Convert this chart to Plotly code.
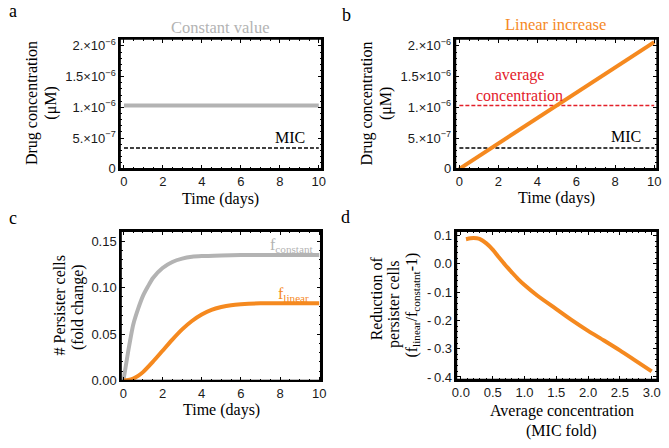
import plotly.graph_objects as go

# ---------------- data ----------------
time_span = [0, 10]
constant_conc = [1.03e-6, 1.03e-6]
linear_conc = [0.0, 2.06e-6]
mic_level = [3.4e-7, 3.4e-7]
average_level = [1.03e-6, 1.03e-6]

conc_tickvals = [0, 5e-7, 1e-6, 1.5e-6, 2e-6]
conc_ticktext = ["0", "5.×10<sup>−7</sup>", "1.×10<sup>−6</sup>", "1.5×10<sup>−6</sup>", "2.×10<sup>−6</sup>"]

time_c = [0, 0.25, 0.5, 0.75, 1, 1.25, 1.5, 2, 2.5, 3, 3.5, 4, 5, 6, 8, 10]
f_constant = [0, 0.032, 0.060, 0.077, 0.091, 0.101, 0.110, 0.121, 0.1275, 0.131, 0.133, 0.1338, 0.1345, 0.135, 0.135, 0.135]
time_l = [0, 0.25, 0.5, 0.75, 1, 1.5, 2, 2.5, 3, 3.5, 4, 4.5, 5, 5.5, 6, 7, 8, 10]
f_linear = [0, 0.0005, 0.002, 0.005, 0.009, 0.020, 0.032, 0.044, 0.055, 0.064, 0.071, 0.076, 0.079, 0.081, 0.082, 0.083, 0.083, 0.083]

avg_conc_fold = [0.08, 0.15, 0.2, 0.25, 0.3, 0.4, 0.5, 0.6, 0.7, 0.8, 0.9, 1.0, 1.2, 1.5, 1.75, 2.0, 2.25, 2.5, 2.75, 3.0]
reduction = [0.087, 0.090, 0.091, 0.090, 0.087, 0.072, 0.050, 0.022, -0.005, -0.030, -0.054, -0.075, -0.112, -0.160, -0.200, -0.237, -0.271, -0.306, -0.343, -0.380]

d_tickvals = [0.1, 0.0, -0.1, -0.2, -0.3, -0.4]
d_ticktext = ["0.1", "0.0", "-\u20090.1", "-\u20090.2", "-\u20090.3", "-\u20090.4"]
d_xtickvals = [0, 0.5, 1, 1.5, 2, 2.5, 3]
d_xticktext = ["0.0", "0.5", "1.0", "1.5", "2.0", "2.5", "3.0"]

GRAY = "#b3b3b3"
ORANGE = "#f5891f"
RED = "#e3202a"
SERIF = "Liberation Serif, Times New Roman, serif"
SANS = "Liberation Sans, Arial, sans-serif"

W, H = 669, 448
def px(x): return x / W
def py(y): return 1 - y / H

fig = go.Figure()

# panel a
fig.add_trace(go.Scatter(x=time_span, y=constant_conc, mode="lines", line=dict(color=GRAY, width=4), xaxis="x", yaxis="y"))
fig.add_trace(go.Scatter(x=time_span, y=mic_level, mode="lines", line=dict(color="black", width=1.5, dash="4px,2px"), xaxis="x", yaxis="y"))
# panel b
fig.add_trace(go.Scatter(x=time_span, y=average_level, mode="lines", line=dict(color=RED, width=1.5, dash="4px,2px"), xaxis="x2", yaxis="y2"))
fig.add_trace(go.Scatter(x=time_span, y=mic_level, mode="lines", line=dict(color="black", width=1.5, dash="4px,2px"), xaxis="x2", yaxis="y2"))
fig.add_trace(go.Scatter(x=time_span, y=linear_conc, mode="lines", line=dict(color=ORANGE, width=4), xaxis="x2", yaxis="y2"))
# panel c
fig.add_trace(go.Scatter(x=time_c, y=f_constant, mode="lines", line=dict(color=GRAY, width=4, shape="spline", smoothing=0.6), xaxis="x3", yaxis="y3"))
fig.add_trace(go.Scatter(x=time_l, y=f_linear, mode="lines", line=dict(color=ORANGE, width=4, shape="spline", smoothing=0.6), xaxis="x3", yaxis="y3"))
# panel d
fig.add_trace(go.Scatter(x=avg_conc_fold, y=reduction, mode="lines", line=dict(color=ORANGE, width=4, shape="spline", smoothing=0.8), xaxis="x4", yaxis="y4"))

common = dict(showline=True, linecolor="black", linewidth=1.5, mirror="allticks", ticks="inside",
              ticklen=4, tickwidth=1, tickcolor="black", showgrid=False, zeroline=False,
              tickfont=dict(family=SANS, size=13, color="#1a1a1a"))

def minor(dt, t0=0):
    return dict(ticks="inside", ticklen=2, tickcolor="black", tickwidth=1, tickmode="linear", tick0=t0, dtick=dt, showgrid=False)

top_y = (py(170), py(37))
bot_y = (py(387), py(234))
xa = dict(tickmode="array", tickvals=[0, 2, 4, 6, 8, 10], ticktext=["0", "2", "4", "6", "8", "10"], minor=minor(0.5))

fig.update_layout(
    xaxis=dict(domain=[px(117), px(322)], range=[-0.2, 10.15], anchor="y", **xa, **common),
    yaxis=dict(domain=list(top_y), range=[0, 2.11e-6], anchor="x", tickmode="array", tickvals=conc_tickvals, ticktext=conc_ticktext, minor=minor(1e-7), **common),
    xaxis2=dict(domain=[px(458), px(663)], range=[-0.2, 10.15], anchor="y2", **xa, **common),
    yaxis2=dict(domain=list(top_y), range=[0, 2.11e-6], anchor="x2", tickmode="array", tickvals=conc_tickvals, ticktext=conc_ticktext, minor=minor(1e-7), **common),
    xaxis3=dict(domain=[px(118), px(321)], range=[-0.12, 10.08], anchor="y3", **xa, **common),
    yaxis3=dict(domain=list(bot_y), range=[0, 0.1605], anchor="x3", tickmode="array", tickvals=[0, 0.05, 0.10, 0.15], ticktext=["0.00", "0.05", "0.10", "0.15"], minor=minor(0.01), **common),
    xaxis4=dict(domain=[px(459), px(663)], range=[-0.07, 3.085], anchor="y4", tickmode="array", tickvals=d_xtickvals, ticktext=d_xticktext, minor=minor(0.1), **common),
    yaxis4=dict(domain=[py(386), py(234)], range=[-0.409, 0.115], anchor="x4", tickmode="array", tickvals=d_tickvals, ticktext=d_ticktext, minor=minor(0.02), **common),
    width=W, height=H, margin=dict(l=0, r=0, t=0, b=0),
    paper_bgcolor="white", plot_bgcolor="white", showlegend=False,
)

# frames
for xr, yr in [("x", "y"), ("x2", "y2"), ("x3", "y3"), ("x4", "y4")]:
    fig.add_shape(type="rect", xref=f"{xr} domain", yref=f"{yr} domain", x0=0, x1=1, y0=0, y1=1,
                  line=dict(color="black", width=1.5), fillcolor="rgba(0,0,0,0)", layer="above")

def ann(x, y, text, size=16, color="black", angle=0, xref="paper", yref="paper", font=SERIF):
    fig.add_annotation(x=x, y=y, xref=xref, yref=yref, text=text, showarrow=False,
                       textangle=angle, font=dict(family=font, size=size, color=color),
                       xanchor="center", yanchor="middle")

# panel letters
ann(px(8), py(8), "a", size=18)
ann(px(347), py(12), "b", size=18)
ann(px(8), py(220), "c", size=18)
ann(px(346), py(219), "d", size=18)

# titles
ann(px(219), py(25), "Constant value", size=16.5, color=GRAY)
ann(px(560), py(22), "Linear increase", size=16.5, color=ORANGE)

# axis titles
ann(px(28), py(103), "Drug concentration", angle=-90)
ann(px(47), py(103), "(μM)", angle=-90)
ann(px(369), py(103), "Drug concentration", angle=-90)
ann(px(388), py(103), "(μM)", angle=-90)
ann(px(219), py(200.5), "Time (days)")
ann(px(561), py(200), "Time (days)")
ann(px(55), py(310), "# Persister cells", angle=-90)
ann(px(75), py(312), "(fold change)", angle=-90)
ann(px(220), py(417), "Time (days)")
ann(px(378), py(303), "Reduction of", angle=-90)
ann(px(396), py(308), "persister cells", angle=-90)
ann(px(414), py(310), "(f<sub>linear</sub>/f<sub>constatnt</sub>-1)", angle=-90)
ann(px(566), py(418), "Average concentration")
ann(px(566), py(439), "(MIC fold)")

# in-plot labels
ann(8.5, 5.1e-7, "MIC", xref="x", yref="y")
ann(8.57, 5.2e-7, "MIC", xref="x2", yref="y2")
ann(3.1, 1.37e-6, "average<br>concentration", xref="x2", yref="y2", color=RED)
ann(8.62, 0.145, "f<sub>constant</sub>", xref="x3", yref="y3", color=GRAY)
ann(8.7, 0.093, "f<sub>linear</sub>", xref="x3", yref="y3", color=ORANGE)

fig.write_html("out.html", config={"displayModeBar": False},
               post_script="document.body.style.margin='0';document.body.style.padding='0';")
